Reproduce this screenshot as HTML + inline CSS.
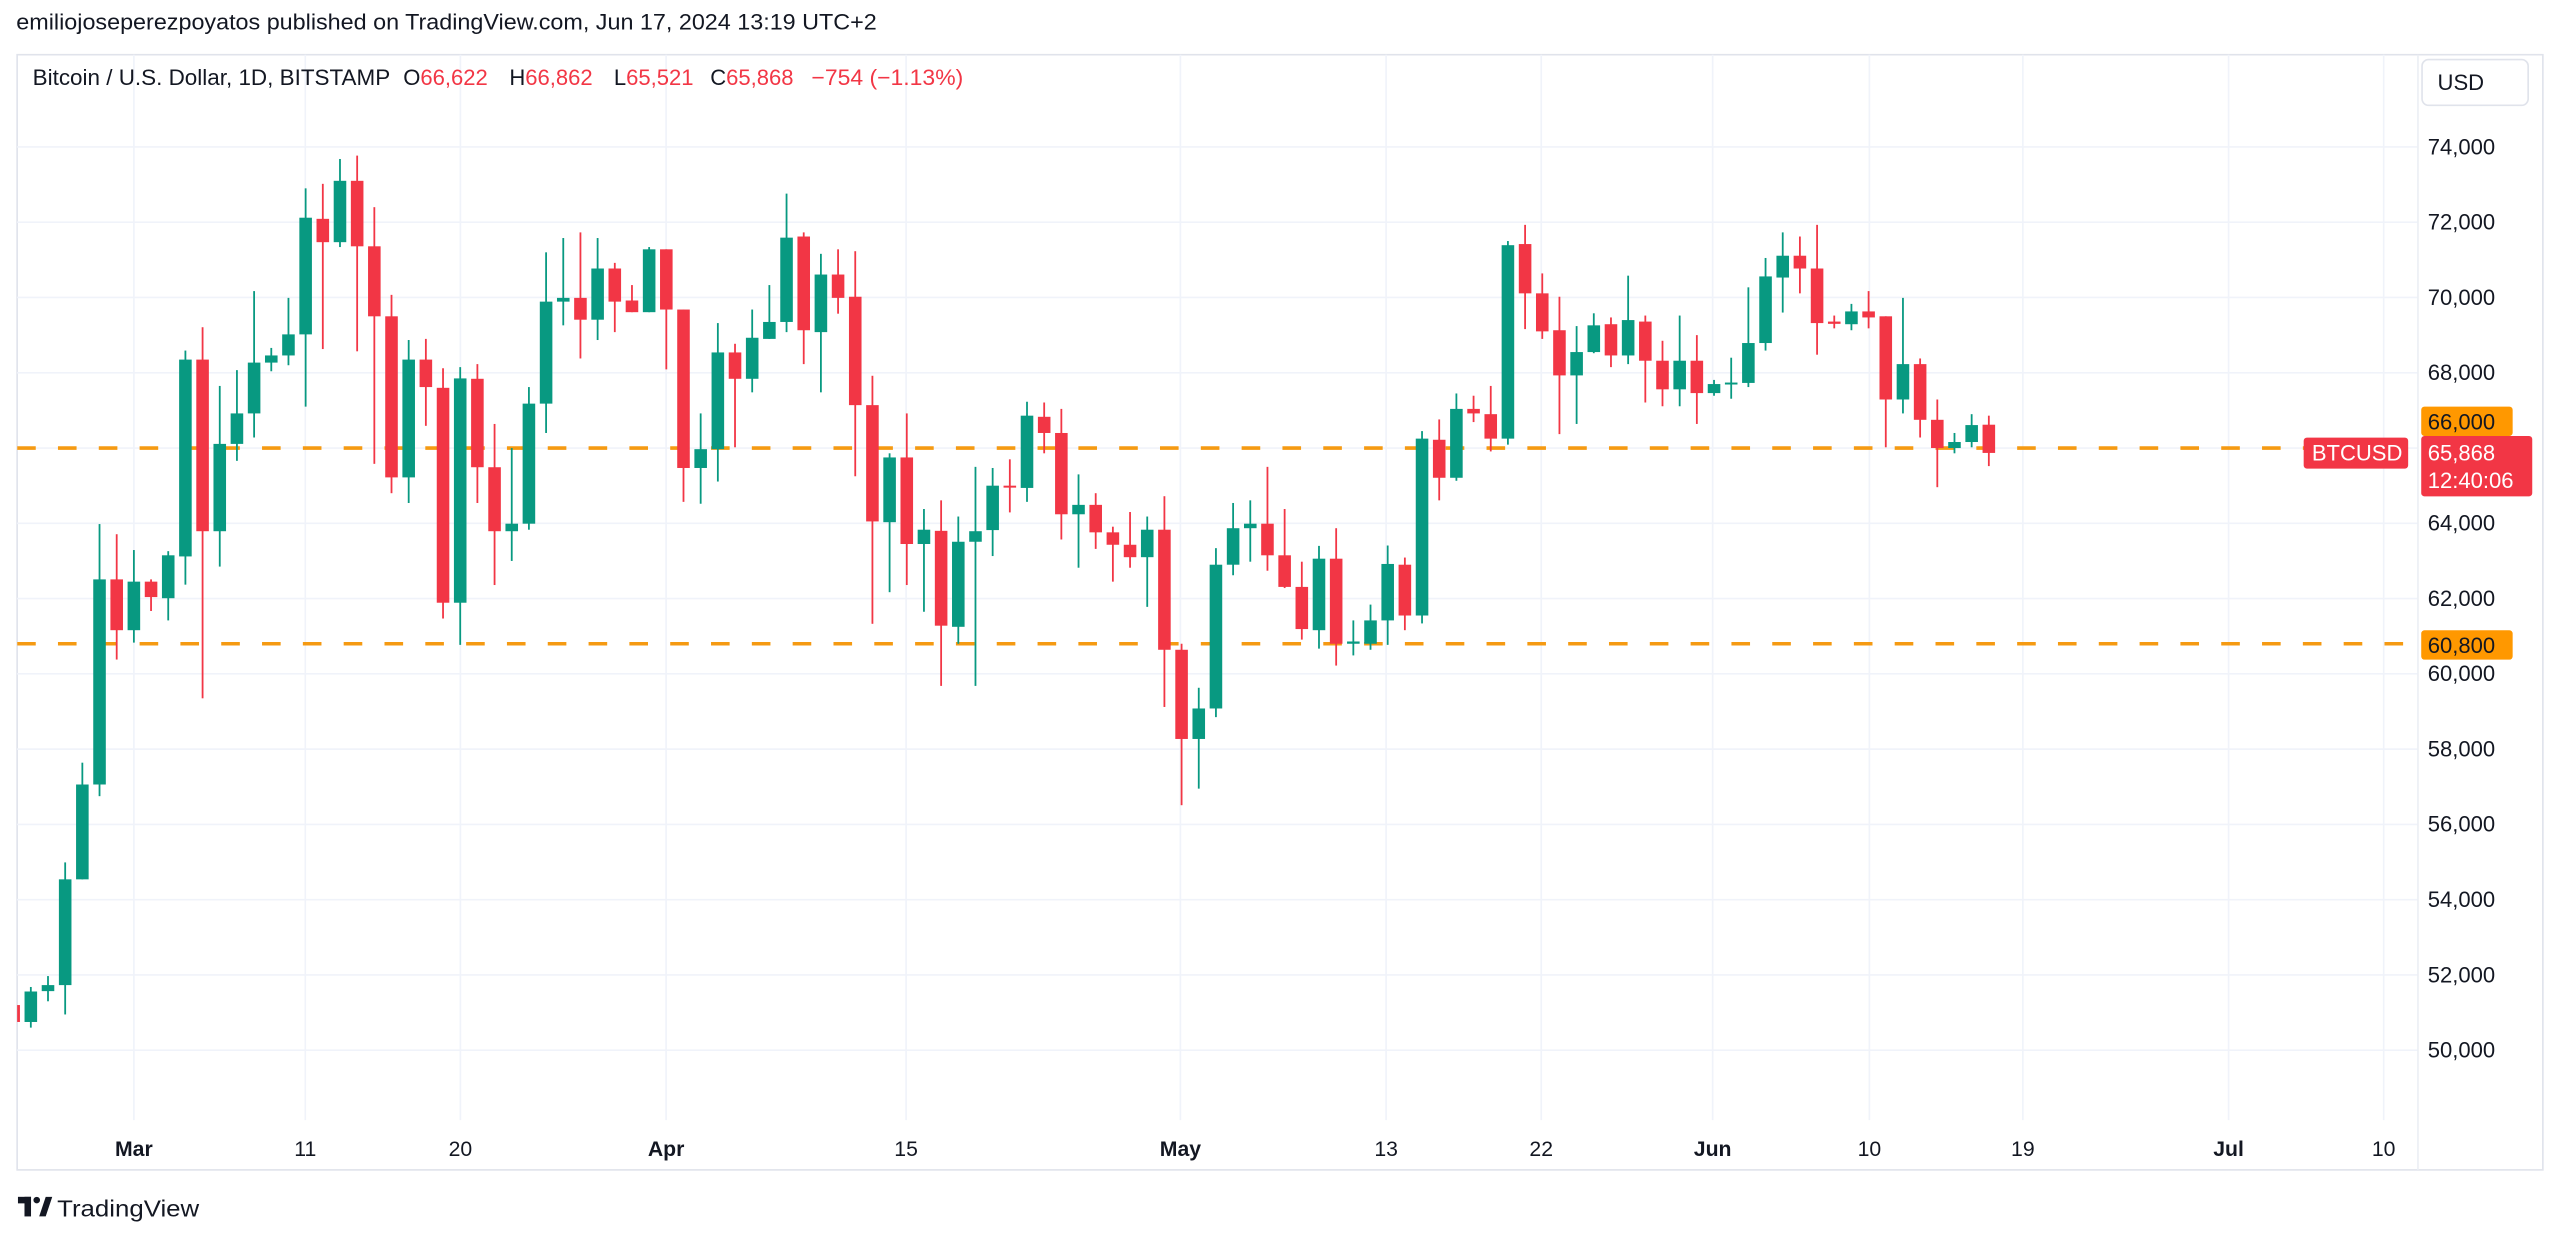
<!DOCTYPE html>
<html><head><meta charset="utf-8"><style>
html,body{margin:0;padding:0;background:#fff;}
svg{display:block;}
text{font-family:"Liberation Sans",Arial,sans-serif;}
</style></head><body>
<svg id="s" xmlns="http://www.w3.org/2000/svg" width="2560" height="1237" viewBox="0 0 1568 757.6" preserveAspectRatio="none">
<rect x="0" y="0" width="1568" height="757.6" fill="#fff"/>
<text x="10" y="18" font-size="13.5" fill="#131722" textLength="527" lengthAdjust="spacingAndGlyphs">emiliojoseperezpoyatos published on TradingView.com, Jun 17, 2024 13:19 UTC+2</text>
<rect x="10.5" y="33.5" width="1547" height="683" fill="none" stroke="#e0e3eb" stroke-width="1"/>
<g id="grid" stroke="#f0f3fa" stroke-width="1"></g>
<line x1="1481" y1="33.5" x2="1481" y2="716.5" stroke="#eceff4" stroke-width="1"/>
<g id="plot"></g>
<text x="20" y="52" font-size="13.5" fill="#131722"><tspan textLength="219" lengthAdjust="spacingAndGlyphs">Bitcoin / U.S. Dollar, 1D, BITSTAMP</tspan><tspan x="247">O</tspan><tspan fill="#f23645">66,622</tspan><tspan x="312">H</tspan><tspan fill="#f23645">66,862</tspan><tspan x="376">L</tspan><tspan fill="#f23645">65,521</tspan><tspan x="435">C</tspan><tspan fill="#f23645">65,868</tspan><tspan x="497" fill="#f23645" textLength="93" lengthAdjust="spacingAndGlyphs">−754 (−1.13%)</tspan></text>
<rect x="1483.5" y="36.5" width="65" height="28" rx="4" fill="#fff" stroke="#e0e3eb"/>
<text x="1493" y="55" font-size="13.5" fill="#131722">USD</text>
<g id="ylab" font-size="13.5" fill="#131722"></g>
<g id="xlab" font-size="13" fill="#131722" text-anchor="middle"></g>
<rect x="1483" y="249" width="56" height="18" rx="2" fill="#ff9800"/>
<text x="1487" y="263" font-size="13.5" fill="#131722">66,000</text>
<rect x="1411" y="268" width="64" height="19" rx="2" fill="#f23645"/>
<text x="1416" y="282" font-size="13.5" fill="#fff">BTCUSD</text>
<rect x="1483" y="267" width="68" height="37" rx="2" fill="#f23645"/>
<text x="1487" y="282" font-size="13.5" fill="#fff">65,868</text>
<text x="1487" y="299" font-size="13.5" fill="#fff">12:40:06</text>
<rect x="1483" y="386" width="56" height="18" rx="2" fill="#ff9800"/>
<text x="1487" y="400" font-size="13.5" fill="#131722">60,800</text>
<g fill="#131722">
<rect x="11" y="733" width="8" height="4"/><rect x="15" y="733" width="4" height="12"/>
<circle cx="22.5" cy="735" r="2"/><polygon points="24,745 28,733 32,733 28,745"/>
</g>
<text x="35" y="745" font-size="14" fill="#131722" textLength="87" lengthAdjust="spacingAndGlyphs">TradingView</text>
</svg>
<script>
var NS="http://www.w3.org/2000/svg";
function el(p,t,a,txt){var e=document.createElementNS(NS,t);for(var k in a)e.setAttribute(k,a[k]);if(txt!==undefined)e.textContent=txt;p.appendChild(e);return e;}
function Y(p){return 90+(74-p)*23.05;}
function X(d){return 82+10.52*d;}
var grid=document.getElementById('grid'),ylab=document.getElementById('ylab'),xlab=document.getElementById('xlab');
for(var v=50;v<=74;v+=2){var y=Y(v);el(grid,'line',{x1:10.5,x2:1481,y1:y,y2:y});
 if(v!==66)el(ylab,'text',{x:1487,y:y+4.5},v+',000');}
var xs=[[82,'Mar',1],[187,'11'],[282,'20'],[408,'Apr',1],[555,'15'],[723,'May',1],[849,'13'],[944,'22'],[1049,'Jun',1],[1145,'10'],[1239,'19'],[1365,'Jul',1],[1460,'10']];
xs.forEach(function(a){el(grid,'line',{x1:a[0],x2:a[0],y1:33.5,y2:686});var t=el(xlab,'text',{x:a[0],y:708},a[1]);if(a[2])t.setAttribute('font-weight','bold');});
var D=[
[51.2,51.3,50.7,50.75],[50.75,51.68,50.6,51.56],[51.57,51.97,51.3,51.73],[51.73,54.99,50.95,54.54],[54.54,57.64,54.54,57.06],[57.06,63.98,56.75,62.51],[62.51,63.71,60.38,61.16],
[61.16,63.29,60.83,62.45],[62.45,62.51,61.67,62.04],[62.01,63.26,61.42,63.15],[63.12,68.59,62.37,68.35],[68.35,69.21,59.35,63.79],[63.79,67.65,62.85,66.11],[66.11,68.07,65.66,66.92],[66.92,70.17,66.28,68.27],[68.27,68.66,68.04,68.46],[68.46,69.99,68.2,69.02],
[69.02,72.9,67.1,72.12],[72.09,73.02,68.63,71.47],[71.47,73.68,71.34,73.1],[73.1,73.77,68.57,71.36],[71.36,72.4,65.58,69.5],[69.5,70.07,64.8,65.22],[65.22,68.87,64.54,68.35],[68.35,68.9,66.59,67.62],[67.6,68.12,61.47,61.89],[61.89,68.15,60.77,67.85],
[67.84,68.23,64.54,65.49],[65.49,66.64,62.36,63.79],[63.79,66.0,63.0,63.99],[63.99,67.62,63.83,67.18],[67.18,71.2,66.4,69.89],[69.89,71.58,69.26,69.99],[69.99,71.73,68.38,69.41],[69.41,71.58,68.87,70.77],[70.77,70.92,69.08,69.89],[69.92,70.33,69.61,69.61],[69.61,71.34,69.61,71.28],
[71.28,71.28,68.09,69.68],[69.68,69.68,64.57,65.47],[65.47,66.92,64.52,65.97],[65.97,69.32,65.11,68.54],[68.54,68.77,66.02,67.84],[67.84,69.68,67.48,68.93],[68.9,70.33,68.9,69.35],[69.35,72.76,69.08,71.59],[71.62,71.73,68.23,69.13],[69.08,71.16,67.48,70.61],[70.61,71.28,69.57,69.99],[70.02,71.23,65.25,67.14],[67.14,67.92,61.33,64.05],[64.03,65.86,62.17,65.75],[65.75,66.92,62.36,63.45],[63.45,64.38,61.65,63.83],[63.8,64.61,59.68,61.28],[61.25,64.18,60.8,63.51],[63.51,65.5,59.68,63.79],[63.82,65.47,63.13,65.0],[65.0,65.7,64.29,64.97],
[64.94,67.23,64.57,66.86],[66.83,67.21,65.86,66.4],[66.4,67.04,63.57,64.24],[64.24,65.3,62.82,64.49],[64.49,64.8,63.32,63.76],[63.76,63.91,62.45,63.43],[63.43,64.3,62.82,63.1],[63.1,64.18,61.78,63.83],[63.83,64.72,59.12,60.64],
[60.64,60.8,56.51,58.27],[58.27,59.63,56.95,59.08],[59.08,63.34,58.85,62.9],[62.9,64.54,62.62,63.87],[63.87,64.61,62.98,63.99],[63.99,65.5,62.74,63.15],[63.15,64.38,62.28,62.31],[62.31,62.98,60.91,61.19],[61.16,63.4,60.67,63.06],[63.06,63.87,60.22,60.8],[60.8,61.42,60.49,60.86],[60.8,61.84,60.64,61.42],[61.42,63.41,60.77,62.92],[62.9,63.09,61.16,61.55],[61.55,66.45,61.34,66.25],[66.22,66.76,64.61,65.21],[65.21,67.45,65.13,67.04],[67.04,67.39,66.69,66.92],[66.9,67.65,65.91,66.25],[66.25,71.5,66.09,71.39],
[71.42,71.93,69.16,70.11],[70.11,70.64,68.9,69.1],[69.13,70.02,66.37,67.93],[67.93,69.24,66.64,68.55],[68.55,69.58,68.52,69.26],[69.29,69.47,68.15,68.46],[68.46,70.58,68.23,69.4],[69.36,69.52,67.21,68.32],[68.32,68.85,67.11,67.56],[67.56,69.52,67.11,68.32],[68.32,69.0,66.64,67.46],
[67.46,67.81,67.39,67.7],[67.7,68.4,67.31,67.74],[67.73,70.27,67.62,68.79],[68.79,71.05,68.59,70.56],[70.53,71.73,69.6,71.11],[71.11,71.62,70.11,70.77],[70.77,71.93,68.48,69.32],[69.36,69.52,69.18,69.3],[69.29,69.83,69.13,69.63],[69.63,70.17,69.18,69.47],[69.5,69.5,66.02,67.29],[67.29,69.99,66.92,68.23],[68.23,68.38,66.28,66.75],[66.75,67.29,64.96,66.0],[66.0,66.4,65.86,66.16],[66.16,66.9,66.02,66.61],[66.62,66.86,65.52,65.87]];
var s=document.getElementById('s'),plot=document.getElementById('plot');
var defs=el(s,'defs',{});var cp=el(defs,'clipPath',{id:'c'});el(cp,'rect',{x:10.5,y:33.5,width:1470.5,height:652});
plot.setAttribute('clip-path','url(#c)');
[66,60.8].forEach(function(p){el(plot,'line',{x1:10.5,x2:1481,y1:Y(p),y2:Y(p),stroke:'#f59a12','stroke-width':2.2,'stroke-dasharray':'11.4 13.6','stroke-dashoffset':'0'});});
D.forEach(function(c,i){var d=i-7,x=X(d),o=c[0],h=c[1],l=c[2],cl=c[3];var col=cl>=o?'#089981':'#f23645';
 el(plot,'rect',{x:x-0.55,y:Y(h),width:1.1,height:Math.max(0.5,Y(l)-Y(h)),fill:col});
 var t=Y(Math.max(o,cl)),b=Y(Math.min(o,cl));el(plot,'rect',{x:x-3.85,y:t,width:7.7,height:Math.max(1.2,b-t),fill:col});});
</script>
</body></html>
